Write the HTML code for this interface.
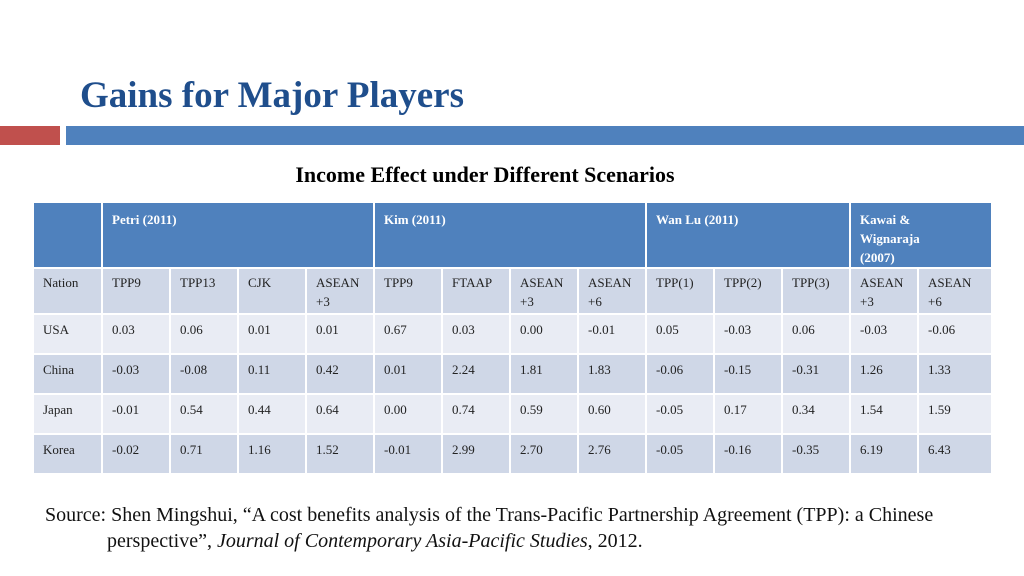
<!DOCTYPE html>
<html><head><meta charset="utf-8"><style>
body{margin:0;width:1024px;height:576px;background:#fff;position:relative;overflow:hidden;font-family:"Liberation Serif",serif}
.abs{position:absolute}
table{position:absolute;left:32px;top:201px;border-collapse:separate;border-spacing:2px;table-layout:fixed;width:960px;font-size:13px;color:#222}
td{vertical-align:top;padding:7px 8px 0 9px;line-height:19px;box-sizing:border-box}
tr.h td{background:#4f81bd;color:#fff;font-weight:bold;height:63px}
tr.s td{background:#cfd7e7;height:44px;padding-top:4px}
tr.l td{background:#e9ecf4;height:38px;padding-top:5px}
tr.d td{background:#cfd7e7;height:38px;padding-top:5px}
</style></head><body>
<div class="abs" style="left:80px;top:74px;font-size:37px;font-weight:bold;color:#1f4e8c">Gains for Major Players</div>
<div class="abs" style="left:0;top:126px;width:60px;height:19px;background:#c0504d"></div>
<div class="abs" style="left:66px;top:126px;width:958px;height:19px;background:#4f81bd"></div>
<div class="abs" style="left:0;width:970px;text-align:center;top:162px;font-size:22px;font-weight:bold;color:#000">Income Effect under Different Scenarios</div>
<table>
<colgroup><col style="width:67px"><col span="12" style="width:66px"><col style="width:72px"></colgroup>
<tr class="h"><td></td><td colspan="4">Petri (2011)</td><td colspan="4">Kim (2011)</td><td colspan="3">Wan Lu (2011)</td><td colspan="2">Kawai &amp;<br>Wignaraja<br>(2007)</td></tr>
<tr class="s"><td>Nation</td><td>TPP9</td><td>TPP13</td><td>CJK</td><td>ASEAN<br>+3</td><td>TPP9</td><td>FTAAP</td><td>ASEAN<br>+3</td><td>ASEAN<br>+6</td><td>TPP(1)</td><td>TPP(2)</td><td>TPP(3)</td><td>ASEAN<br>+3</td><td>ASEAN<br>+6</td></tr>
<tr class="l"><td>USA</td><td>0.03</td><td>0.06</td><td>0.01</td><td>0.01</td><td>0.67</td><td>0.03</td><td>0.00</td><td>-0.01</td><td>0.05</td><td>-0.03</td><td>0.06</td><td>-0.03</td><td>-0.06</td></tr>
<tr class="d"><td>China</td><td>-0.03</td><td>-0.08</td><td>0.11</td><td>0.42</td><td>0.01</td><td>2.24</td><td>1.81</td><td>1.83</td><td>-0.06</td><td>-0.15</td><td>-0.31</td><td>1.26</td><td>1.33</td></tr>
<tr class="l"><td>Japan</td><td>-0.01</td><td>0.54</td><td>0.44</td><td>0.64</td><td>0.00</td><td>0.74</td><td>0.59</td><td>0.60</td><td>-0.05</td><td>0.17</td><td>0.34</td><td>1.54</td><td>1.59</td></tr>
<tr class="d"><td>Korea</td><td>-0.02</td><td>0.71</td><td>1.16</td><td>1.52</td><td>-0.01</td><td>2.99</td><td>2.70</td><td>2.76</td><td>-0.05</td><td>-0.16</td><td>-0.35</td><td>6.19</td><td>6.43</td></tr>
</table>
<div class="abs" style="left:45px;top:502px;width:960px;font-size:20px;line-height:26px;color:#111;padding-left:62px;text-indent:-62px;box-sizing:border-box">Source: Shen Mingshui, “A cost benefits analysis of the Trans-Pacific Partnership Agreement (TPP): a Chinese perspective”, <i>Journal of Contemporary Asia-Pacific Studies</i>, 2012.</div>
</body></html>
